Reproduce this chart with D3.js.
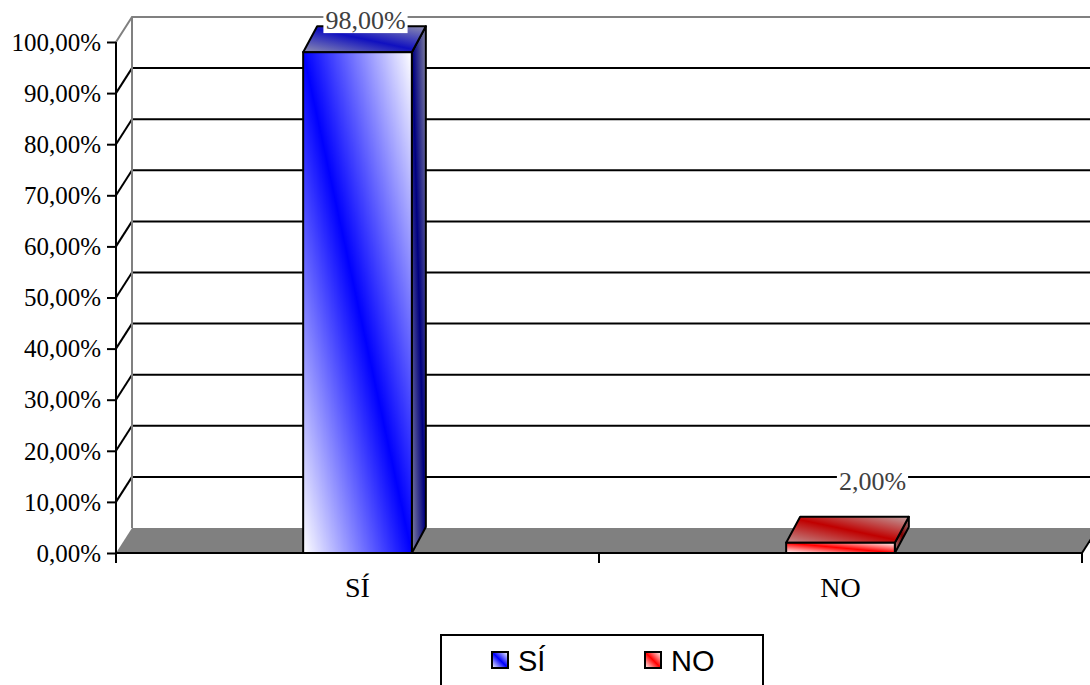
<!DOCTYPE html>
<html>
<head>
<meta charset="utf-8">
<script src="https://cdn.jsdelivr.net/npm/d3@7"></script>
<style>
  body { margin: 0; background: #fff; }
  svg { display: block; }
</style>
</head>
<body>
<div id="chart"></div>
<script>
// Daten
const categories = ['SÍ', 'NO'];
const values = [0.98, 0.02];
const valueLabels = ['98,00%', '2,00%'];
const tickValues = [0, 0.1, 0.2, 0.3, 0.4, 0.5, 0.6, 0.7, 0.8, 0.9, 1.0];
const tickLabels = ['0,00%', '10,00%', '20,00%', '30,00%', '40,00%', '50,00%', '60,00%', '70,00%', '80,00%', '90,00%', '100,00%'];

const W = 1090, H = 685;
const serif = '"Liberation Serif", "Times New Roman", serif';
const sans = '"Liberation Sans", Arial, sans-serif';

// Tiefe für den 3D-Effekt
const wallDx = 16, wallDy = -25;
const barDx = 14, barDy = -26;

const svg = d3.select('#chart').append('svg')
    .attr('width', W).attr('height', H);

const x = d3.scaleBand().domain(categories).range([116, 1082]).padding(0);
const y = d3.scaleLinear().domain([0, 1]).range([553, 42]);

const defs = svg.append('defs');

// Verläufe für die Balken
function addGradient(id, stops, x1, y1, x2, y2) {
    const g = defs.append('linearGradient').attr('id', id)
        .attr('x1', x1).attr('y1', y1).attr('x2', x2).attr('y2', y2);
    stops.forEach(s => g.append('stop').attr('offset', s[0]).attr('stop-color', s[1]));
}
addGradient('frontBlue', [[0, '#ffffff'], [0.5, '#0000ff'], [1, '#ffffff']], 0, 1, 1, 0);
addGradient('sideBlue', [[0, '#8080a0'], [0.5, '#000080'], [1, '#8080a0']], 0, 1, 1, 0);
addGradient('topBlue', [[0, '#9090b0'], [0.5, '#1010c0'], [1, '#9090b0']], 0, 1, 1, 0);
addGradient('frontRed', [[0, '#ffffff'], [0.5, '#ff0000'], [1, '#ffffff']], 0, 1, 1, 0);
addGradient('sideRed', [[0, '#a08080'], [0.5, '#800000'], [1, '#a08080']], 0, 1, 1, 0);
addGradient('topRed', [[0, '#c09090'], [0.5, '#c00000'], [1, '#c0a0a0']], 0, 1, 1, 0);
addGradient('legBlue', [[0, '#ffffff'], [0.5, '#0000ff'], [1, '#ffffff']], 0, 1, 1, 0);
addGradient('legRed', [[0, '#ffffff'], [0.5, '#ff0000'], [1, '#ffffff']], 0, 1, 1, 0);

const x0 = x.range()[0], x1 = x.range()[1];

// Boden
svg.append('path')
    .attr('d', `M${x0},${y(0)} L${x0 + wallDx},${y(0) + wallDy} L${x1 + wallDx},${y(0) + wallDy} L${x1},${y(0)} Z`)
    .attr('fill', '#808080');

// Gitterlinien an der Rückwand
svg.append('g').selectAll('line')
    .data(tickValues.filter(d => d > 0 && d < 1))
    .enter().append('line')
    .attr('x1', x0 + wallDx).attr('x2', W)
    .attr('y1', d => y(d) + wallDy).attr('y2', d => y(d) + wallDy)
    .attr('stroke', '#000').attr('stroke-width', 2);

// Diagonalen an der Seitenwand
svg.append('g').selectAll('line')
    .data(tickValues.filter(d => d > 0 && d < 1))
    .enter().append('line')
    .attr('x1', x0).attr('x2', x0 + wallDx)
    .attr('y1', d => y(d)).attr('y2', d => y(d) + wallDy)
    .attr('stroke', '#000').attr('stroke-width', 2);

// Umriss der Wände (grau)
svg.append('path')
    .attr('d', `M${x0},${y(1)} L${x0 + wallDx},${y(1) + wallDy} L${W},${y(1) + wallDy} M${x0 + wallDx},${y(1) + wallDy} L${x0 + wallDx},${y(0) + wallDy}`)
    .attr('fill', 'none').attr('stroke', '#808080').attr('stroke-width', 2);

// Rechte Bodenkante
svg.append('line')
    .attr('x1', x1).attr('y1', y(0)).attr('x2', x1 + wallDx).attr('y2', y(0) + wallDy)
    .attr('stroke', '#000').attr('stroke-width', 2);

// Balken
const barW = x.bandwidth() * 0.225;
const bars = svg.append('g').selectAll('g')
    .data(categories)
    .enter().append('g');

const col = ['Blue', 'Red'];

bars.each(function (c, i) {
    const g = d3.select(this);
    const bx = x(c) + (x.bandwidth() - barW) / 2;
    const top = y(values[i]), bot = y(0);
    // Seitenfläche
    g.append('path')
        .attr('d', `M${bx + barW},${top} L${bx + barW + barDx},${top + barDy} L${bx + barW + barDx},${bot + barDy} L${bx + barW},${bot} Z`)
        .attr('fill', `url(#side${col[i]})`).attr('stroke', '#000').attr('stroke-width', 2).attr('stroke-linejoin', 'round');
    // Oberseite
    g.append('path')
        .attr('d', `M${bx},${top} L${bx + barDx},${top + barDy} L${bx + barW + barDx},${top + barDy} L${bx + barW},${top} Z`)
        .attr('fill', `url(#top${col[i]})`).attr('stroke', '#000').attr('stroke-width', 2).attr('stroke-linejoin', 'round');
    // Vorderseite
    g.append('rect')
        .attr('x', bx).attr('y', top).attr('width', barW).attr('height', bot - top)
        .attr('fill', `url(#front${col[i]})`).attr('stroke', '#000').attr('stroke-width', 2);
});

// Vordere Achse
svg.append('line')
    .attr('x1', x0).attr('x2', x0).attr('y1', y(1)).attr('y2', y(0))
    .attr('stroke', '#000').attr('stroke-width', 2);
svg.append('line')
    .attr('x1', x0).attr('x2', x1).attr('y1', y(0)).attr('y2', y(0))
    .attr('stroke', '#000').attr('stroke-width', 2);

// Y-Achse mit Beschriftungen
const yAxis = svg.append('g')
    .attr('transform', `translate(${x0},0)`)
    .call(d3.axisLeft(y).tickValues(tickValues).tickFormat((d, i) => tickLabels[i]).tickSize(9).tickPadding(6));
yAxis.select('.domain').remove();
yAxis.selectAll('line').attr('stroke', '#000').attr('stroke-width', 2);
yAxis.selectAll('text').attr('font-family', serif).attr('font-size', 25).attr('fill', '#000').attr('dy', '0.33em');

// X-Achse: Striche zwischen Kategorien
svg.append('g').selectAll('line')
    .data([x0, x0 + x.step(), x1])
    .enter().append('line')
    .attr('x1', d => d).attr('x2', d => d)
    .attr('y1', y(0)).attr('y2', y(0) + 10)
    .attr('stroke', '#000').attr('stroke-width', 2);

svg.append('g').selectAll('text')
    .data(categories)
    .enter().append('text')
    .attr('x', d => x(d) + x.bandwidth() / 2)
    .attr('y', y(0) + 44)
    .attr('text-anchor', 'middle')
    .attr('font-family', serif).attr('font-size', 28)
    .text(d => d);

// Datenbeschriftungen mit weißem Hintergrund
categories.forEach((c, i) => {
    const cx = x(c) + x.bandwidth() / 2 + barDx + (i === 0 ? -6 : 18);
    const cy = Math.max(y(values[i]) + barDy - 36, 20);
    const lab = svg.append('g');
    const t = lab.append('text')
        .attr('x', cx).attr('y', cy).attr('dy', '0.35em')
        .attr('text-anchor', 'middle')
        .attr('font-family', serif).attr('font-size', 26).attr('fill', '#404040')
        .text(valueLabels[i]);
    const bb = t.node().getBBox();
    lab.insert('rect', 'text')
        .attr('x', bb.x - 2).attr('y', bb.y + 4).attr('width', bb.width + 4).attr('height', bb.height - 6)
        .attr('fill', '#fff');
});

// Legende
const legend = svg.append('g');
legend.append('rect')
    .attr('x', 441).attr('y', 635).attr('width', 322).attr('height', 70)
    .attr('fill', '#fff').attr('stroke', '#000').attr('stroke-width', 2);

const legItem = legend.selectAll('.legend-item')
    .data(categories)
    .enter().append('g')
    .attr('class', 'legend-item')
    .attr('transform', (d, i) => `translate(${492 + i * 153}, 652)`);

legItem.append('rect')
    .attr('width', 16).attr('height', 16)
    .attr('fill', (d, i) => `url(#leg${col[i]})`)
    .attr('stroke', '#000').attr('stroke-width', 2);

legItem.append('text')
    .attr('x', 26).attr('y', 9).attr('dy', '0.36em')
    .attr('font-family', sans).attr('font-size', 29)
    .text(d => d);
</script>
</body>
</html>
